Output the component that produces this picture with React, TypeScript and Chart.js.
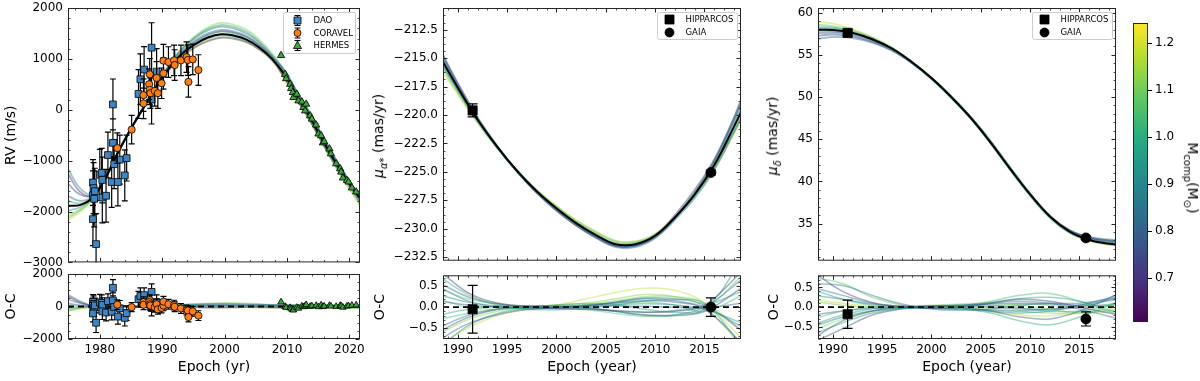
import React, { useEffect, useRef } from 'react';
import { Chart, registerables } from 'chart.js';

Chart.register(...registerables);
Chart.defaults.font.family = "'DejaVu Sans', sans-serif";
Chart.defaults.color = '#000';

// ---------------- Radial velocity data ----------------
const DAO_EPOCH = [1978.9, 1979.0, 1978.9, 1979.1, 1978.9, 1979.4, 1979.2, 1980.0, 1980.3, 1980.4, 1980.4, 1981.0, 1981.3, 1981.9, 1982.1, 1982.3, 1982.1, 1982.9, 1983.2, 1984.0, 1984.3, 1986.2, 1986.5, 1987.1, 1988.3, 1988.3, 1989.1];
const DAO_RV = [-1430, -1540, -1680, -1750, -2150, -2640, -1600, -1280, -1240, -1380, -1725, -1690, -890, -1420, -650, -1070, 105, -1420, -980, -1290, -950, 310, 600, 790, 1220, 200, 750];
const DAO_ERR = [450, 500, 480, 550, 520, 600, 450, 500, 480, 450, 500, 520, 450, 500, 470, 480, 500, 470, 480, 500, 450, 480, 500, 450, 490, 480, 450];
const DAO_OC = [290, 160, 40, -60, -430, -1000, 70, 250, 230, 90, -300, -370, 330, -320, 370, -30, 1150, -620, -110, -700, -410, 450, 650, 700, 900, -100, 260];

const CORAVEL_EPOCH = [1982.8, 1985.1, 1987.0, 1987.0, 1988.0, 1987.9, 1988.0, 1988.1, 1988.8, 1989.1, 1989.3, 1989.9, 1990.2, 1990.2, 1991.0, 1991.9, 1992.0, 1993.0, 1993.9, 1994.1, 1994.9, 1994.2, 1995.8];
const CORAVEL_RV = [-754, -390, 287, 125, 697, 502, 391, 326, 371, 625, 326, 521, 717, 965, 938, 971, 879, 971, 1035, 977, 990, 547, 781];
const CORAVEL_ERR = [300, 280, 320, 300, 310, 300, 290, 300, 300, 320, 300, 300, 310, 320, 300, 300, 300, 300, 300, 300, 300, 300, 300];
const CORAVEL_OC = [115, -40, 270, 105, 400, 270, 140, 60, -45, 145, -175, -90, 55, 300, 140, 85, -20, -120, -220, -250, -300, -650, -560];

const HERMES_EPOCH = [2009.05, 2009.7, 2009.86, 2010.5, 2010.66, 2010.93, 2011.03, 2011.57, 2011.83, 2012.38, 2012.63, 2012.9, 2013.07, 2013.71, 2013.98, 2014.67, 2015.04, 2015.47, 2015.75, 2015.96, 2016.81, 2017.03, 2017.88, 2018.52, 2018.68, 2018.96, 2019.6, 2019.86, 2020.4, 2021.09];
const HERMES_RV = [1068, 697, 613, 502, 418, 340, 242, 307, 176, 156, 47, -20, 111, -117, -182, -299, -475, -508, -650, -625, -768, -865, -1061, -1158, -1223, -1340, -1387, -1418, -1535, -1614];
const HERMES_ERR = [25, 25, 25, 25, 25, 25, 25, 25, 25, 25, 25, 25, 25, 25, 25, 25, 25, 25, 25, 25, 25, 25, 25, 25, 25, 25, 25, 25, 25, 25];
const HERMES_OC = [280, 0, -60, -70, -150, -200, -220, -60, -110, 20, -20, 30, 110, 0, 40, 60, -20, 90, -10, 20, 60, 20, 0, 60, 40, -50, 20, 40, 70, 90];

// model orbits (RV)
const RV_MODEL_EPOCH = [1974.8, 1976.9, 1978.9, 1981.0, 1983.0, 1985.1, 1987.1, 1989.2, 1991.2, 1993.2, 1995.3, 1997.3, 1999.4, 2001.4, 2003.5, 2005.5, 2007.6, 2009.6, 2011.7, 2013.7, 2015.8, 2017.8, 2019.9, 2021.9];
const RV_BEST = [-1890, -1870, -1720, -1320, -820, -350, 60, 480, 830, 1100, 1290, 1420, 1485, 1460, 1380, 1230, 1000, 690, 250, -150, -620, -1040, -1440, -1780];
const RV_DRAW_MASS = [0.70, 0.76, 0.82, 0.88, 0.94, 1.00, 1.06, 1.12, 1.20];
const RV_DRAW_1 = [-1240, -1620, -1680, -1310, -820, -350, 60, 470, 800, 1050, 1230, 1350, 1415, 1400, 1330, 1190, 975, 620, 180, -210, -670, -1080, -1460, -1730];
const RV_DRAW_2 = [-1440, -1670, -1670, -1305, -815, -350, 65, 495, 860, 1150, 1360, 1500, 1570, 1540, 1450, 1285, 1035, 760, 320, -90, -560, -990, -1420, -1880];
const RV_DRAW_3 = [-1690, -1790, -1700, -1315, -820, -350, 60, 485, 845, 1130, 1330, 1470, 1540, 1510, 1425, 1265, 1020, 650, 200, -200, -670, -1090, -1490, -1830];
const RV_DRAW_4 = [-1140, -1550, -1660, -1305, -815, -345, 70, 510, 890, 1190, 1410, 1560, 1635, 1600, 1500, 1325, 1060, 780, 340, -60, -530, -960, -1380, -1760];
const RV_DRAW_5 = [-1990, -1910, -1730, -1325, -820, -350, 60, 475, 820, 1085, 1270, 1395, 1460, 1435, 1360, 1215, 990, 720, 290, -110, -580, -1000, -1400, -1740];
const RV_DRAW_6 = [-1790, -1840, -1720, -1320, -820, -345, 70, 510, 890, 1200, 1430, 1590, 1665, 1635, 1535, 1350, 1080, 740, 310, -80, -550, -980, -1390, -1740];
const RV_DRAW_7 = [-2140, -1970, -1750, -1330, -820, -350, 60, 490, 850, 1130, 1330, 1470, 1540, 1515, 1430, 1270, 1025, 640, 190, -220, -690, -1120, -1520, -1890];
const RV_DRAW_8 = [-2090, -1950, -1740, -1325, -820, -345, 75, 520, 910, 1220, 1450, 1620, 1705, 1675, 1575, 1390, 1110, 770, 330, -70, -540, -970, -1390, -1730];
const RV_DRAW_9 = [-2190, -2000, -1760, -1330, -820, -350, 55, 465, 800, 1055, 1235, 1360, 1420, 1400, 1325, 1185, 970, 600, 170, -230, -700, -1130, -1540, -1940];
const RV_DRAWS = [RV_DRAW_1, RV_DRAW_2, RV_DRAW_3, RV_DRAW_4, RV_DRAW_5, RV_DRAW_6, RV_DRAW_7, RV_DRAW_8, RV_DRAW_9];

const RV_OC_EPOCH = [1974.8, 1976.9, 1978.9, 1983.0, 1989.2, 1995.3, 1999.4, 2003.5, 2009.6, 2015.8, 2019.9, 2021.9];
const RV_OC_1 = [650, 250, 40, 0, -10, -60, -70, -50, -70, -50, -20, 50];
const RV_OC_2 = [450, 200, 50, 5, 15, 70, 85, 70, 70, 60, 20, -100];
const RV_OC_3 = [200, 80, 20, 0, 5, 40, 55, 45, -40, -50, -50, -50];
const RV_OC_4 = [750, 320, 60, 5, 30, 120, 150, 120, 90, 90, 60, 20];
const RV_OC_5 = [-100, -40, -10, 0, -5, -20, -25, -20, 30, 40, 40, 40];
const RV_OC_6 = [100, 30, 0, 0, 30, 140, 180, 155, 50, 70, 50, 40];
const RV_OC_7 = [-250, -100, -30, 0, 10, 40, 55, 50, -50, -70, -80, -110];
const RV_OC_8 = [-200, -80, -20, 0, 40, 160, 220, 195, 80, 80, 50, 50];
const RV_OC_9 = [-300, -130, -40, 0, -15, -55, -65, -55, -90, -80, -100, -160];
const RV_OCS = [RV_OC_1, RV_OC_2, RV_OC_3, RV_OC_4, RV_OC_5, RV_OC_6, RV_OC_7, RV_OC_8, RV_OC_9];

// ---------------- Proper motion data ----------------
const PM_LABELS = ['HIPPARCOS', 'GAIA'];
const PM_EPOCH = [1991.5, 2015.65];
const PMRA_OBS = [-219.6, -225.05];
const PMRA_ERR = [0.57, 0.22];
const PMRA_OC = [-0.05, 0.0];
const PMDEC_OBS = [57.6, 33.3];
const PMDEC_ERR = [0.36, 0.18];
const PMDEC_OC = [-0.18, -0.3];

const PM_MODEL_EPOCH = [1988, 1990, 1992, 1994, 1996, 1998, 2000, 2002, 2004, 2006, 2008, 2010, 2012, 2014, 2016, 2018, 2019];
const PM_DRAW_MASS = [0.72, 0.85, 0.95, 1.08, 1.18, 0.80, 0.90, 1.00];
const PMRA_BEST = [-214.6, -217.6, -220.4, -222.8, -224.9, -226.7, -228.2, -229.5, -230.55, -231.35, -231.35, -230.6, -229.0, -227.0, -224.4, -221.0, -219.2];
const PMRA_DRAW_1 = [-214.0, -217.3, -220.3, -222.8, -225.0, -226.85, -228.4, -229.7, -230.75, -231.5, -231.45, -230.6, -228.8, -226.6, -223.9, -220.3, -218.2];
const PMRA_DRAW_2 = [-214.9, -217.8, -220.5, -222.85, -224.95, -226.75, -228.25, -229.55, -230.6, -231.45, -231.45, -230.75, -229.2, -227.3, -224.8, -221.5, -219.8];
const PMRA_DRAW_3 = [-214.2, -217.4, -220.35, -222.8, -224.95, -226.8, -228.35, -229.65, -230.7, -231.5, -231.5, -230.7, -229.0, -226.85, -224.1, -220.5, -218.5];
const PMRA_DRAW_4 = [-215.3, -218.0, -220.6, -222.9, -224.9, -226.6, -228.05, -229.3, -230.3, -231.1, -231.15, -230.5, -229.0, -227.1, -224.6, -221.4, -219.8];
const PMRA_DRAW_5 = [-215.6, -218.2, -220.7, -222.9, -224.9, -226.6, -228.0, -229.25, -230.25, -231.05, -231.1, -230.45, -229.0, -227.1, -224.7, -221.6, -220.1];
const PMRA_DRAW_6 = [-213.9, -217.2, -220.2, -222.7, -224.9, -226.8, -228.35, -229.7, -230.8, -231.6, -231.6, -230.8, -229.1, -226.9, -224.0, -220.2, -218.0];
const PMRA_DRAW_7 = [-214.4, -217.5, -220.35, -222.8, -224.9, -226.75, -228.25, -229.55, -230.65, -231.45, -231.45, -230.65, -229.0, -226.9, -224.2, -220.65, -218.7];
const PMRA_DRAW_8 = [-215.0, -217.85, -220.5, -222.85, -224.9, -226.65, -228.1, -229.4, -230.45, -231.25, -231.25, -230.55, -229.0, -227.05, -224.55, -221.3, -219.6];
const PMRA_DRAWS = [PMRA_DRAW_1, PMRA_DRAW_2, PMRA_DRAW_3, PMRA_DRAW_4, PMRA_DRAW_5, PMRA_DRAW_6, PMRA_DRAW_7, PMRA_DRAW_8];

const PMDEC_BEST = [57.95, 57.95, 57.6, 56.85, 55.75, 54.15, 52.25, 50.0, 47.5, 44.6, 41.45, 38.45, 35.85, 34.05, 33.05, 32.6, 32.5];
const PMDEC_DRAW_1 = [57.2, 57.4, 57.2, 56.55, 55.55, 54.05, 52.2, 50.0, 47.55, 44.65, 41.5, 38.5, 35.9, 34.15, 33.3, 32.95, 32.9];
const PMDEC_DRAW_2 = [56.8, 57.1, 57.0, 56.45, 55.5, 54.05, 52.2, 49.95, 47.5, 44.55, 41.4, 38.4, 35.85, 34.2, 33.4, 33.1, 33.05];
const PMDEC_DRAW_3 = [58.3, 58.2, 57.75, 56.95, 55.8, 54.15, 52.2, 50.0, 47.45, 44.5, 41.3, 38.3, 35.7, 33.95, 33.1, 32.75, 32.65];
const PMDEC_DRAW_4 = [58.6, 58.4, 57.9, 57.0, 55.8, 54.15, 52.25, 50.0, 47.55, 44.7, 41.55, 38.55, 35.9, 33.95, 33.0, 32.55, 32.45];
const PMDEC_DRAW_5 = [59.0, 58.7, 58.05, 57.1, 55.85, 54.2, 52.3, 50.05, 47.55, 44.65, 41.45, 38.4, 35.75, 33.9, 32.95, 32.5, 32.35];
const PMDEC_DRAW_6 = [57.5, 57.65, 57.4, 56.7, 55.65, 54.1, 52.25, 50.05, 47.6, 44.75, 41.6, 38.55, 35.9, 34.2, 33.35, 33.0, 32.95];
const PMDEC_DRAW_7 = [58.05, 58.05, 57.65, 56.85, 55.75, 54.1, 52.15, 49.9, 47.4, 44.55, 41.45, 38.45, 35.85, 34.1, 33.2, 32.85, 32.8];
const PMDEC_DRAW_8 = [57.75, 57.8, 57.5, 56.8, 55.75, 54.2, 52.3, 50.1, 47.6, 44.7, 41.5, 38.45, 35.8, 34.0, 33.1, 32.7, 32.6];
const PMDEC_DRAWS = [PMDEC_DRAW_1, PMDEC_DRAW_2, PMDEC_DRAW_3, PMDEC_DRAW_4, PMDEC_DRAW_5, PMDEC_DRAW_6, PMDEC_DRAW_7, PMDEC_DRAW_8];

const PM_OC_EPOCH = [1988, 1991, 1994, 1997, 2000, 2003, 2006, 2009, 2012, 2015, 2019];
const PM_OC_MASS = [0.72, 0.78, 0.84, 0.88, 0.92, 0.96, 1.00, 1.04, 1.08, 1.12, 1.18, 0.80, 0.86, 0.98, 1.10, 0.75];
const PMRA_OC_1 = [0.9, 0.35, 0.1, 0.02, -0.03, -0.05, -0.08, -0.12, -0.1, 0.05, 0.9];
const PMRA_OC_2 = [-0.8, -0.4, -0.18, -0.06, 0.0, 0.04, 0.1, 0.15, 0.12, -0.05, -0.9];
const PMRA_OC_3 = [0.6, 0.25, 0.08, 0.0, -0.02, 0.02, 0.12, 0.22, 0.2, 0.05, -0.6];
const PMRA_OC_4 = [-0.5, -0.2, -0.05, 0.02, 0.03, 0.0, -0.1, -0.2, -0.18, 0.0, 0.7];
const PMRA_OC_5 = [0.3, 0.12, 0.03, -0.02, -0.02, 0.02, 0.06, 0.08, 0.05, -0.05, -0.4];
const PMRA_OC_6 = [-1.0, -0.45, -0.15, -0.02, 0.05, 0.08, 0.05, -0.05, -0.12, -0.05, 1.2];
const PMRA_OC_7 = [0.75, 0.3, 0.05, -0.05, -0.06, -0.03, 0.05, 0.15, 0.18, 0.08, -1.0];
const PMRA_OC_8 = [-0.3, -0.15, -0.05, 0.0, 0.02, 0.05, 0.1, 0.12, 0.05, -0.1, 0.3];
const PMRA_OC_9 = [0.45, 0.2, 0.08, 0.03, 0.0, -0.06, -0.15, -0.22, -0.2, -0.05, 0.8];
const PMRA_OC_10 = [-0.65, -0.3, -0.1, 0.0, 0.05, 0.1, 0.2, 0.3, 0.25, 0.0, -1.0];
const PMRA_OC_11 = [-0.9, -0.5, -0.2, -0.05, 0.05, 0.2, 0.35, 0.45, 0.4, 0.1, -0.8];
const PMRA_OC_12 = [0.15, 0.05, 0.0, 0.0, 0.01, 0.02, 0.03, 0.02, 0.0, -0.02, 0.1];
const PMRA_OC_13 = [0.5, 0.15, 0.0, -0.03, -0.02, 0.03, 0.12, 0.2, 0.15, 0.0, -0.5];
const PMRA_OC_14 = [-0.2, -0.05, 0.03, 0.03, 0.0, -0.04, -0.1, -0.12, -0.08, 0.03, 0.4];
const PMRA_OC_15 = [0.2, 0.0, -0.05, -0.03, 0.0, 0.06, 0.15, 0.25, 0.25, 0.1, -0.6];
const PMRA_OC_16 = [-0.6, -0.25, -0.05, 0.02, 0.02, -0.02, -0.1, -0.18, -0.2, -0.1, 0.5];
const PMRA_OCS = [PMRA_OC_1, PMRA_OC_2, PMRA_OC_3, PMRA_OC_4, PMRA_OC_5, PMRA_OC_6, PMRA_OC_7, PMRA_OC_8, PMRA_OC_9, PMRA_OC_10, PMRA_OC_11, PMRA_OC_12, PMRA_OC_13, PMRA_OC_14, PMRA_OC_15, PMRA_OC_16];

const PMDEC_OC_1 = [0.9, 0.4, 0.12, 0.02, -0.03, 0.0, 0.1, 0.2, 0.15, 0.0, -0.2];
const PMDEC_OC_2 = [-0.8, -0.35, -0.1, 0.0, 0.03, 0.0, -0.1, -0.25, -0.3, -0.1, 0.35];
const PMDEC_OC_3 = [0.6, 0.55, 0.3, 0.08, -0.05, -0.08, -0.05, 0.05, 0.1, 0.1, 0.25];
const PMDEC_OC_4 = [-0.5, -0.25, -0.1, -0.03, 0.02, 0.05, 0.1, 0.15, 0.1, -0.05, -0.3];
const PMDEC_OC_5 = [0.3, 0.2, 0.08, 0.02, 0.0, -0.03, -0.1, -0.15, -0.1, 0.05, 0.2];
const PMDEC_OC_6 = [-0.7, -0.4, -0.15, -0.03, 0.03, 0.05, 0.05, -0.02, -0.1, -0.1, 0.1];
const PMDEC_OC_7 = [0.45, 0.2, 0.05, -0.02, -0.03, -0.05, -0.15, -0.35, -0.45, -0.25, 0.15];
const PMDEC_OC_8 = [-0.3, -0.1, 0.0, 0.02, 0.0, 0.03, 0.15, 0.3, 0.35, 0.15, -0.2];
const PMDEC_OC_9 = [0.75, 0.6, 0.25, 0.05, -0.02, -0.02, 0.02, 0.08, 0.05, 0.0, 0.1];
const PMDEC_OC_10 = [-0.6, -0.3, -0.1, 0.0, 0.05, 0.08, 0.1, 0.05, -0.05, -0.15, -0.1];
const PMDEC_OC_11 = [0.2, 0.1, 0.03, 0.0, -0.02, -0.05, -0.12, -0.2, -0.22, -0.15, 0.0];
const PMDEC_OC_12 = [-0.2, -0.1, -0.03, 0.0, 0.01, 0.03, 0.08, 0.1, 0.08, 0.05, 0.05];
const PMDEC_OC_13 = [0.5, 0.3, 0.1, 0.0, -0.03, -0.05, -0.08, -0.1, -0.05, 0.05, 0.3];
const PMDEC_OC_14 = [-0.45, -0.2, -0.05, 0.0, 0.02, 0.05, 0.12, 0.22, 0.25, 0.15, -0.15];
const PMDEC_OC_15 = [0.15, 0.05, 0.0, -0.02, -0.02, -0.02, -0.05, -0.1, -0.15, -0.15, -0.05];
const PMDEC_OC_16 = [-0.9, -0.55, -0.2, -0.05, 0.02, 0.03, 0.0, -0.05, -0.05, 0.0, 0.25];
const PMDEC_OCS = [PMDEC_OC_1, PMDEC_OC_2, PMDEC_OC_3, PMDEC_OC_4, PMDEC_OC_5, PMDEC_OC_6, PMDEC_OC_7, PMDEC_OC_8, PMDEC_OC_9, PMDEC_OC_10, PMDEC_OC_11, PMDEC_OC_12, PMDEC_OC_13, PMDEC_OC_14, PMDEC_OC_15, PMDEC_OC_16];

// ---------------- Axes / ticks ----------------
const RV_X_TICKS = [1980, 1990, 2000, 2010, 2020];
const RV_Y_TICKS = [-3000, -2000, -1000, 0, 1000, 2000];
const RV_OC_TICKS = [-2000, 0, 2000];
const PM_X_TICKS = [1990, 1995, 2000, 2005, 2010, 2015];
const PMRA_Y_TICKS = [-232.5, -230, -227.5, -225, -222.5, -220, -217.5, -215, -212.5];
const PMDEC_Y_TICKS = [35, 40, 45, 50, 55, 60];
const PM_OC_TICKS = [-0.5, 0, 0.5];
const CB_TICKS = [0.7, 0.8, 0.9, 1.0, 1.1, 1.2];
const CB_MIN = 0.607;
const CB_MAX = 1.243;

// ---------------- styling helpers ----------------
const VIRIDIS = ['#440154', '#472d7b', '#3b528b', '#2c728e', '#21918c', '#28ae80', '#5ec962', '#addc30', '#fde725'];
const hexRgb = (h: string) => [1, 3, 5].map((i) => parseInt(h.slice(i, i + 2), 16));
function massColor(m: number, alpha: number) {
  let t = (m - CB_MIN) / (CB_MAX - CB_MIN);
  t = Math.max(0, Math.min(1, t));
  const s = t * (VIRIDIS.length - 1);
  const i = Math.min(VIRIDIS.length - 2, Math.floor(s));
  const f = s - i;
  const a = hexRgb(VIRIDIS[i]);
  const b = hexRgb(VIRIDIS[i + 1]);
  const c = a.map((v, k) => Math.round(v + (b[k] - v) * f));
  return `rgba(${c[0]},${c[1]},${c[2]},${alpha})`;
}
const fmt = (v: number, d: number) => Number(v).toFixed(d).replace('-', '\u2212');

const C_DAO = '#3d86c6';
const C_COR = '#ff7f0e';
const C_HER = '#3aa83a';
const DRAW_ALPHA = 0.45;

const curve = (xs: number[], ys: number[], color: string, width: number) => ({
  data: xs.map((x, i) => ({ x, y: ys[i] })),
  borderColor: color,
  borderWidth: width,
  pointRadius: 0,
  tension: 0.4,
  fill: false,
  showLine: true,
});
const points = (xs: number[], ys: number[], errs: number[], style: string, r: number, fill: string, cap: number) => ({
  data: xs.map((x, i) => ({ x, y: ys[i] })),
  showLine: false,
  pointStyle: style,
  pointRadius: r,
  pointBackgroundColor: fill,
  pointBorderColor: '#000',
  pointBorderWidth: 0.8,
  backgroundColor: fill,
  borderColor: '#000',
  errors: errs,
  capHalf: cap,
});

function drawMarker(ctx: any, shape: string, x: number, y: number, r: number, fill: string) {
  ctx.beginPath();
  if (shape === 'rect') ctx.rect(x - r, y - r, 2 * r, 2 * r);
  else if (shape === 'circle') ctx.arc(x, y, r, 0, Math.PI * 2);
  else {
    ctx.moveTo(x, y - r * 1.1);
    ctx.lineTo(x + r, y + r * 0.75);
    ctx.lineTo(x - r, y + r * 0.75);
    ctx.closePath();
  }
  ctx.fillStyle = fill;
  ctx.fill();
  ctx.lineWidth = 0.8;
  ctx.strokeStyle = '#000';
  ctx.stroke();
}

function framePlugin(spec: any) {
  return {
    id: 'frameTicks',
    afterDatasetsDraw(chart: any) {
      const { ctx, chartArea: a } = chart;
      const xs = chart.scales.x;
      const ys = chart.scales.y;
      const L = a.left + 0.5, R = a.right - 0.5, T = a.top + 0.5, B = a.bottom - 0.5;
      ctx.save();
      ctx.strokeStyle = '#262626';
      const xt = (v: number, len: number) => {
        const p = Math.round(xs.getPixelForValue(v)) + 0.5;
        ctx.moveTo(p, B); ctx.lineTo(p, B - len);
        ctx.moveTo(p, T); ctx.lineTo(p, T + len);
      };
      const yt = (v: number, len: number) => {
        const p = Math.round(ys.getPixelForValue(v)) + 0.5;
        ctx.moveTo(L, p); ctx.lineTo(L + len, p);
        ctx.moveTo(R, p); ctx.lineTo(R - len, p);
      };
      const minors = (min: number, max: number, step: number, major: number[], fn: (v: number) => void) => {
        for (let k = Math.ceil(min / step - 1e-9); k * step <= max + 1e-9; k++) {
          const v = k * step;
          if (!major.some((m) => Math.abs(m - v) < step / 10)) fn(v);
        }
      };
      ctx.lineWidth = 0.8;
      ctx.beginPath();
      minors(spec.x.min, spec.x.max, spec.x.minor, spec.x.ticks, (v) => xt(v, 2));
      minors(spec.y.min, spec.y.max, spec.y.minor, spec.y.ticks, (v) => yt(v, 2));
      ctx.stroke();
      ctx.lineWidth = 1;
      ctx.beginPath();
      spec.x.ticks.forEach((v: number) => xt(v, 4));
      spec.y.ticks.forEach((v: number) => yt(v, 4));
      ctx.stroke();
      ctx.strokeRect(L, T, R - L, B - T);
      ctx.restore();
    },
  };
}

function errorPlugin(spec: any) {
  return {
    id: 'errorBars',
    beforeDatasetDraw(chart: any, args: any) {
      const { ctx, chartArea: a } = chart;
      const ys = chart.scales.y;
      const ds = chart.data.datasets[args.index];
      ctx.save();
      ctx.beginPath();
      ctx.rect(a.left, a.top, a.right - a.left, a.bottom - a.top);
      ctx.clip();
      if (spec.zeroBefore === args.index) {
        const p = ys.getPixelForValue(0);
        ctx.beginPath();
        ctx.setLineDash([6, 4]);
        ctx.lineWidth = 1.8;
        ctx.strokeStyle = '#000';
        ctx.moveTo(a.left, p);
        ctx.lineTo(a.right, p);
        ctx.stroke();
        ctx.setLineDash([]);
      }
      if (ds.errors) {
        ctx.strokeStyle = '#000';
        ctx.lineWidth = 1.2;
        ctx.beginPath();
        args.meta.data.forEach((pt: any, i: number) => {
          const v = ds.data[i].y;
          const e = ds.errors[i];
          const y1 = ys.getPixelForValue(v + e);
          const y2 = ys.getPixelForValue(v - e);
          const c = ds.capHalf;
          ctx.moveTo(pt.x, y1); ctx.lineTo(pt.x, y2);
          ctx.moveTo(pt.x - c, y1); ctx.lineTo(pt.x + c, y1);
          ctx.moveTo(pt.x - c, y2); ctx.lineTo(pt.x + c, y2);
        });
        ctx.stroke();
      }
      ctx.restore();
    },
  };
}

function legendPlugin(spec: any) {
  return {
    id: 'boxLegend',
    afterDraw(chart: any) {
      const lg = spec.legend;
      if (!lg) return;
      const { ctx, chartArea: a } = chart;
      const x0 = Math.round(a.right - lg.dx - lg.w) + 0.5;
      const y0 = Math.round(a.top + lg.dy) + 0.5;
      ctx.save();
      ctx.beginPath();
      if (ctx.roundRect) ctx.roundRect(x0, y0, lg.w, lg.h, 2); else ctx.rect(x0, y0, lg.w, lg.h);
      ctx.fillStyle = 'rgba(255,255,255,0.85)';
      ctx.fill();
      ctx.strokeStyle = '#cccccc';
      ctx.lineWidth = 1;
      ctx.stroke();
      lg.items.forEach((it: any, i: number) => {
        const cy = y0 + lg.rows[i];
        const cx = x0 + lg.mx;
        if (it.err) {
          ctx.beginPath();
          ctx.strokeStyle = '#000';
          ctx.lineWidth = 1.2;
          ctx.moveTo(cx, cy - it.err); ctx.lineTo(cx, cy + it.err);
          ctx.moveTo(cx - 3, cy - it.err); ctx.lineTo(cx + 3, cy - it.err);
          ctx.moveTo(cx - 3, cy + it.err); ctx.lineTo(cx + 3, cy + it.err);
          ctx.stroke();
        }
        drawMarker(ctx, it.shape, cx, cy, it.r, it.fill);
        ctx.fillStyle = '#000';
        ctx.font = `${lg.font}px 'DejaVu Sans', sans-serif`;
        ctx.textBaseline = 'middle';
        ctx.textAlign = 'left';
        ctx.fillText(it.label, x0 + lg.tx, cy + 0.5);
      });
      ctx.restore();
    },
  };
}

function buildConfig(spec: any) {
  return {
    type: 'line',
    data: { datasets: spec.datasets },
    options: {
      responsive: false,
      animation: false,
      events: [],
      layout: { padding: { left: 0, top: spec.pt, right: spec.pr, bottom: 0 } },
      plugins: { legend: { display: false }, tooltip: { enabled: false } },
      scales: {
        x: {
          type: 'linear',
          min: spec.x.min,
          max: spec.x.max,
          grid: { display: false, drawTicks: false },
          border: { display: false },
          ticks: {
            display: !!spec.x.labels,
            padding: 4,
            autoSkip: false,
            maxRotation: 0,
            font: { size: 12 },
            callback: (v: number) => fmt(v, 0),
          },
          title: spec.x.title
            ? { display: true, text: spec.x.title, font: { size: 14 }, padding: { top: 0, bottom: 3.5 } }
            : { display: false },
          afterBuildTicks: (s: any) => { s.ticks = spec.x.ticks.map((v: number) => ({ value: v })); },
          afterFit: (s: any) => { s.height = spec.xh; s.paddingLeft = 0; s.paddingRight = 0; },
        },
        y: {
          type: 'linear',
          min: spec.y.min,
          max: spec.y.max,
          grid: { display: false, drawTicks: false },
          border: { display: false },
          ticks: {
            padding: 5,
            autoSkip: false,
            font: { size: 12 },
            callback: (v: number) => fmt(v, spec.y.dec),
          },
          title: spec.y.title
            ? { display: true, text: spec.y.title, font: { size: 14 }, padding: { top: spec.y.titlePad, bottom: 0 } }
            : { display: false },
          afterBuildTicks: (s: any) => { s.ticks = spec.y.ticks.map((v: number) => ({ value: v })); },
          afterFit: (s: any) => { s.width = spec.yw; s.paddingTop = 0; s.paddingBottom = 0; },
        },
      },
    },
    plugins: [errorPlugin(spec), framePlugin(spec), legendPlugin(spec)],
  };
}

function cbConfig() {
  return {
    type: 'line',
    data: { datasets: [] },
    options: {
      responsive: false,
      animation: false,
      events: [],
      layout: { padding: { left: 0, top: 23, right: 0, bottom: 18 } },
      plugins: { legend: { display: false }, tooltip: { enabled: false } },
      scales: {
        x: { type: 'linear', display: false, min: 0, max: 1 },
        y: {
          type: 'linear',
          position: 'right',
          min: CB_MIN,
          max: CB_MAX,
          grid: { display: true, drawOnChartArea: false, drawTicks: true, tickLength: 4, color: '#000', lineWidth: 1 },
          border: { display: false },
          ticks: { padding: 3, font: { size: 12 }, callback: (v: number) => fmt(v, 1) },
          afterBuildTicks: (s: any) => { s.ticks = CB_TICKS.map((v) => ({ value: v })); },
          afterFit: (s: any) => { s.width = 52; },
        },
      },
    },
    plugins: [
      {
        id: 'cbFill',
        beforeDatasetsDraw(chart: any) {
          const { ctx, chartArea: a } = chart;
          const g = ctx.createLinearGradient(0, a.bottom, 0, a.top);
          VIRIDIS.forEach((c, i) => g.addColorStop(i / (VIRIDIS.length - 1), c));
          ctx.save();
          ctx.fillStyle = g;
          ctx.fillRect(a.left, a.top, a.right - a.left, a.bottom - a.top);
          ctx.strokeStyle = '#262626';
          ctx.lineWidth = 1;
          ctx.strokeRect(a.left + 0.5, a.top + 0.5, a.right - a.left - 1, a.bottom - a.top - 1);
          ctx.restore();
        },
      },
    ],
  };
}

// ---------------- panel specs ----------------
const RV_X = { min: 1974.9, max: 2021.7, ticks: RV_X_TICKS, minor: 2 };
const PM_X = { min: 1988.5, max: 2018.7, ticks: PM_X_TICKS, minor: 1 };

function makeSpecs() {
  const rvDraws = RV_DRAWS.map((d, i) => curve(RV_MODEL_EPOCH, d, massColor(RV_DRAW_MASS[i], DRAW_ALPHA), 1.8));
  const rvOcDraws = RV_OCS.map((d, i) => curve(RV_OC_EPOCH, d, massColor(RV_DRAW_MASS[i], DRAW_ALPHA), 1.6));
  const raDraws = PMRA_DRAWS.map((d, i) => curve(PM_MODEL_EPOCH, d, massColor(PM_DRAW_MASS[i], DRAW_ALPHA), 2));
  const decDraws = PMDEC_DRAWS.map((d, i) => curve(PM_MODEL_EPOCH, d, massColor(PM_DRAW_MASS[i], DRAW_ALPHA), 2));
  const raOc = PMRA_OCS.map((d, i) => curve(PM_OC_EPOCH, d, massColor(PM_OC_MASS[i], DRAW_ALPHA), 1.5));
  const decOc = PMDEC_OCS.map((d, i) => curve(PM_OC_EPOCH, d, massColor(PM_OC_MASS[i], DRAW_ALPHA), 1.5));

  const rvLegend = {
    w: 72, h: 41, dx: 5, dy: 4, rows: [8, 20.5, 33], mx: 14, tx: 30, font: 8.5,
    items: [
      { label: 'DAO', shape: 'rect', r: 3.5, fill: C_DAO, err: 5 },
      { label: 'CORAVEL', shape: 'circle', r: 3.5, fill: C_COR, err: 5 },
      { label: 'HERMES', shape: 'triangle', r: 4, fill: C_HER, err: 5 },
    ],
  };
  const pmLegend = {
    w: 80, h: 27, dx: 4, dy: 4, rows: [7, 20], mx: 12, tx: 28, font: 8.5,
    items: [
      { label: PM_LABELS[0], shape: 'rect', r: 4.5, fill: '#000' },
      { label: PM_LABELS[1], shape: 'circle', r: 4.5, fill: '#000' },
    ],
  };

  return [
    {
      box: { l: 68, t: 8, r: 360, b: 264 }, yw: 68, pt: 8, pr: 10, xh: 4,
      x: { ...RV_X, labels: false },
      y: { min: -3000, max: 2000, ticks: RV_Y_TICKS, minor: 200, dec: 0, title: 'RV (m/s)', titlePad: 2.5 },
      legend: rvLegend,
      datasets: [
        points(CORAVEL_EPOCH, CORAVEL_RV, CORAVEL_ERR, 'circle', 3.6, C_COR, 3),
        points(DAO_EPOCH, DAO_RV, DAO_ERR, 'rect', 4.8, C_DAO, 3),
        points(HERMES_EPOCH, HERMES_RV, HERMES_ERR, 'triangle', 4.2, C_HER, 2),
        curve(RV_MODEL_EPOCH, RV_BEST, '#000', 2),
        ...rvDraws,
      ],
    },
    {
      box: { l: 68, t: 274, r: 360, b: 339 }, yw: 68, pt: 6, pr: 10, xh: 40,
      x: { ...RV_X, labels: true, title: 'Epoch (yr)' },
      y: { min: -2000, max: 2000, ticks: RV_OC_TICKS, minor: 500, dec: 0, title: 'O-C', titlePad: 2.5 },
      zeroBefore: 2,
      datasets: [
        points(CORAVEL_EPOCH, CORAVEL_OC, CORAVEL_ERR, 'circle', 3.6, C_COR, 3),
        points(DAO_EPOCH, DAO_OC, DAO_ERR, 'rect', 4.8, C_DAO, 3),
        points(HERMES_EPOCH, HERMES_OC, HERMES_ERR, 'triangle', 3.8, C_HER, 2),
        ...rvOcDraws,
      ],
    },
    {
      box: { l: 443, t: 8, r: 741, b: 264 }, yw: 73, pt: 8, pr: 10, xh: 4,
      x: { ...PM_X, labels: false },
      y: { min: -232.8, max: -210.6, ticks: PMRA_Y_TICKS, minor: 0.625, dec: 1 },
      legend: pmLegend,
      datasets: [
        points([PM_EPOCH[0]], [PMRA_OBS[0]], [PMRA_ERR[0]], 'rect', 6.5, '#000', 5),
        points([PM_EPOCH[1]], [PMRA_OBS[1]], [PMRA_ERR[1]], 'circle', 5, '#000', 5),
        curve(PM_MODEL_EPOCH, PMRA_BEST, '#000', 2),
        ...raDraws,
      ],
    },
    {
      box: { l: 443, t: 274, r: 741, b: 339 }, yw: 73, pt: 6, pr: 10, xh: 40,
      x: { ...PM_X, labels: true, title: 'Epoch (year)' },
      y: { min: -0.76, max: 0.76, ticks: PM_OC_TICKS, minor: 0.1, dec: 1, title: 'O-C', titlePad: 1.6 },
      zeroBefore: 1,
      datasets: [
        points([PM_EPOCH[0]], [PMRA_OC[0]], [PMRA_ERR[0]], 'rect', 6.5, '#000', 5),
        points([PM_EPOCH[1]], [PMRA_OC[1]], [PMRA_ERR[1]], 'circle', 5, '#000', 5),
        ...raOc,
      ],
    },
    {
      box: { l: 818, t: 8, r: 1116, b: 264 }, yw: 66, pt: 8, pr: 12, xh: 4,
      x: { ...PM_X, labels: false },
      y: { min: 30.6, max: 60.55, ticks: PMDEC_Y_TICKS, minor: 1, dec: 0 },
      legend: pmLegend,
      datasets: [
        points([PM_EPOCH[0]], [PMDEC_OBS[0]], [PMDEC_ERR[0]], 'rect', 6.5, '#000', 5),
        points([PM_EPOCH[1]], [PMDEC_OBS[1]], [PMDEC_ERR[1]], 'circle', 5, '#000', 5),
        curve(PM_MODEL_EPOCH, PMDEC_BEST, '#000', 2),
        ...decDraws,
      ],
    },
    {
      box: { l: 818, t: 274, r: 1116, b: 339 }, yw: 66, pt: 6, pr: 12, xh: 40,
      x: { ...PM_X, labels: true, title: 'Epoch (year)' },
      y: { min: -0.81, max: 0.81, ticks: PM_OC_TICKS, minor: 0.1, dec: 1, title: 'O-C', titlePad: 13.6 },
      zeroBefore: 1,
      datasets: [
        points([PM_EPOCH[0]], [PMDEC_OC[0]], [PMDEC_ERR[0]], 'rect', 6.5, '#000', 5),
        points([PM_EPOCH[1]], [PMDEC_OC[1]], [PMDEC_ERR[1]], 'circle', 5, '#000', 5),
        ...decOc,
      ],
    },
  ];
}

const SPECS_GEOM = makeSpecs().map((s: any) => ({
  x: s.box.l - s.yw,
  y: s.box.t - s.pt,
  w: s.box.r - s.box.l + s.yw + s.pr,
  h: s.box.b - s.box.t + s.pt + s.xh,
}));
const CB_GEOM = { x: 1133, y: 0, w: 67, h: 340 };

const labelStyle: any = {
  position: 'absolute',
  whiteSpace: 'nowrap',
  fontFamily: "'DejaVu Sans', sans-serif",
  fontSize: 14,
  lineHeight: 1,
  color: '#000',
};

export default function App() {
  const refs = useRef<(HTMLCanvasElement | null)[]>([]);
  const cbRef = useRef<HTMLCanvasElement | null>(null);
  useEffect(() => {
    const specs = makeSpecs();
    const charts = specs.map((s, i) => new Chart(refs.current[i] as any, buildConfig(s) as any));
    charts.push(new Chart(cbRef.current as any, cbConfig() as any));
    return () => charts.forEach((c) => c.destroy());
  }, []);
  return (
    <div style={{ position: 'absolute', left: 0, top: 0, width: 1200, height: 381, background: '#fff', overflow: 'hidden' }}>
      {SPECS_GEOM.map((g, i) => (
        <canvas
          key={i}
          ref={(el) => { refs.current[i] = el; }}
          width={g.w}
          height={g.h}
          style={{ position: 'absolute', left: g.x, top: g.y, width: g.w, height: g.h }}
        />
      ))}
      <canvas
        ref={cbRef}
        width={CB_GEOM.w}
        height={CB_GEOM.h}
        style={{ position: 'absolute', left: CB_GEOM.x, top: CB_GEOM.y, width: CB_GEOM.w, height: CB_GEOM.h }}
      />
      <div style={{ ...labelStyle, left: 380, top: 136, transform: 'translate(-50%,-50%) rotate(-90deg)' }}>
        <i>μ</i><sub style={{ fontSize: 10 }}><i>α</i>*</sub> (mas/yr)
      </div>
      <div style={{ ...labelStyle, left: 774, top: 136, transform: 'translate(-50%,-50%) rotate(-90deg)' }}>
        <i>μ</i><sub style={{ fontSize: 10 }}><i>δ</i></sub> (mas/yr)
      </div>
      <div style={{ ...labelStyle, left: 1191, top: 178, transform: 'translate(-50%,-50%) rotate(90deg)' }}>
        M<sub style={{ fontSize: 10 }}>comp</sub>(M<sub style={{ fontSize: 10 }}>⊙</sub>)
      </div>
    </div>
  );
}
